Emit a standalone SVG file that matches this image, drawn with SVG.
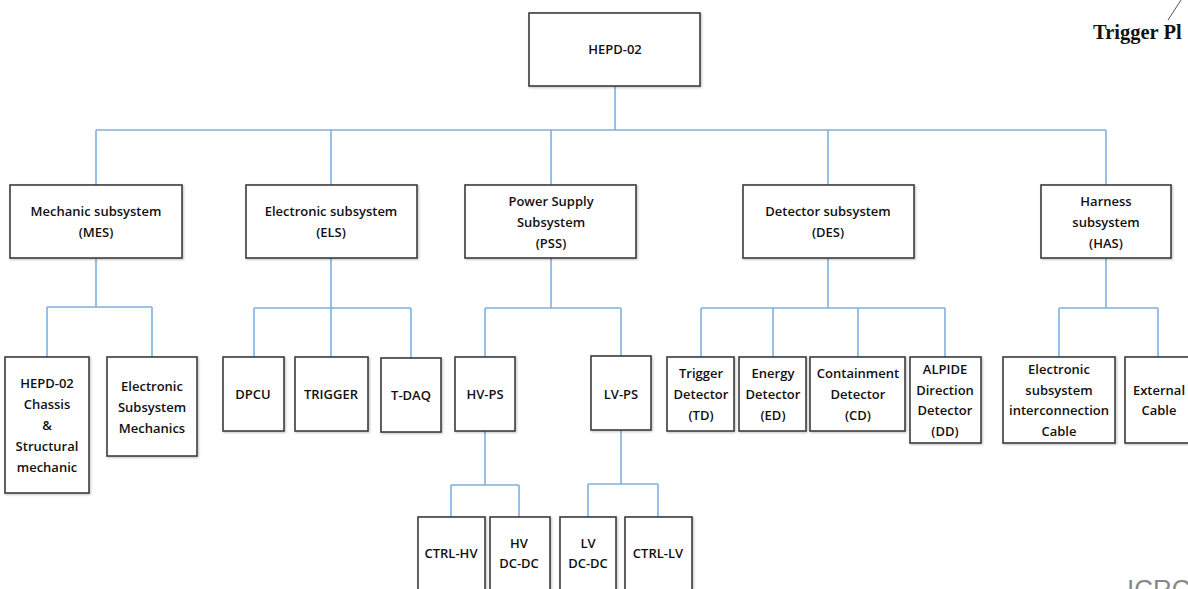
<svg xmlns="http://www.w3.org/2000/svg" width="1188" height="589" viewBox="0 0 1188 589">
<defs>
<filter id="sh" x="-10%" y="-10%" width="130%" height="130%">
<feDropShadow dx="1" dy="1" stdDeviation="1.2" flood-color="#000" flood-opacity="0.25"/>
</filter>
</defs>
<style>
.box{fill:#fff;stroke:#3c3c3c;stroke-width:1.6;filter:url(#sh)}
.t{font-family:"Open Sans","Noto Sans",sans-serif;font-size:13px;font-weight:600;fill:#111;text-anchor:middle;dominant-baseline:central}
.c{fill:none;stroke:#7fb0e0;stroke-width:1.6}
</style>
<rect width="1188" height="589" fill="#fff"/>
<g id="connectors">
<path class="c" d="M615 86V130M96 130H1106M96 130V185M331 130V185M551 130V185M828 130V185M1106 130V185"/>
<path class="c" d="M96 258V307M47 307H152M47 307V357M152 307V357"/>
<path class="c" d="M331 258V357M254 308H411M254 308V357M411 308V358"/>
<path class="c" d="M551 258V308M485 308H621M485 308V357M621 308V356"/>
<path class="c" d="M828 258V308M701 308H945M701 308V357M773 308V357M858 308V357M945 308V357"/>
<path class="c" d="M1106 258V308M1059 308H1158M1059 308V357M1158 308V357"/>
<path class="c" d="M485 431V485M451 485H519M451 485V517M519 485V517"/>
<path class="c" d="M621 430V484M588 484H658M588 484V517M658 484V517"/>
</g>
<g id="hepd02"><rect class="box" x="529" y="13" width="171" height="73"/><text class="t" x="615" y="49">HEPD-02</text></g>
<g id="mes"><rect class="box" x="10" y="185" width="172" height="73"/><text class="t" x="96" y="211">Mechanic subsystem</text><text class="t" x="96" y="232">(MES)</text></g>
<g id="els"><rect class="box" x="246" y="185" width="171" height="73"/><text class="t" x="331" y="211">Electronic subsystem</text><text class="t" x="331" y="232">(ELS)</text></g>
<g id="pss"><rect class="box" x="465" y="185" width="171" height="73"/><text class="t" x="551" y="201">Power Supply</text><text class="t" x="551" y="222">Subsystem</text><text class="t" x="551" y="243">(PSS)</text></g>
<g id="des"><rect class="box" x="743" y="185" width="171" height="73"/><text class="t" x="828" y="211">Detector subsystem</text><text class="t" x="828" y="232">(DES)</text></g>
<g id="has"><rect class="box" x="1041" y="185" width="130" height="73"/><text class="t" x="1106" y="201">Harness</text><text class="t" x="1106" y="222">subsystem</text><text class="t" x="1106" y="243">(HAS)</text></g>
<g id="chassis"><rect class="box" x="5" y="357" width="84" height="136"/><text class="t" x="47" y="383">HEPD-02</text><text class="t" x="47" y="404">Chassis</text><text class="t" x="47" y="425">&amp;</text><text class="t" x="47" y="446">Structural</text><text class="t" x="47" y="467">mechanic</text></g>
<g id="esm"><rect class="box" x="107" y="357" width="90" height="99"/><text class="t" x="152" y="386">Electronic</text><text class="t" x="152" y="407">Subsystem</text><text class="t" x="152" y="428">Mechanics</text></g>
<g id="dpcu"><rect class="box" x="223" y="357" width="61" height="74"/><text class="t" x="253" y="394">DPCU</text></g>
<g id="trigger"><rect class="box" x="295" y="357" width="73" height="74"/><text class="t" x="331" y="394">TRIGGER</text></g>
<g id="tdaq"><rect class="box" x="381" y="358" width="60" height="74"/><text class="t" x="411" y="395">T-DAQ</text></g>
<g id="hvps"><rect class="box" x="455" y="357" width="60" height="74"/><text class="t" x="485" y="394">HV-PS</text></g>
<g id="lvps"><rect class="box" x="591" y="356" width="60" height="74"/><text class="t" x="621" y="394">LV-PS</text></g>
<g id="td"><rect class="box" x="667" y="357" width="67" height="74"/><text class="t" x="701" y="373">Trigger</text><text class="t" x="701" y="394">Detector</text><text class="t" x="701" y="415">(TD)</text></g>
<g id="ed"><rect class="box" x="739" y="357" width="67" height="74"/><text class="t" x="773" y="373">Energy</text><text class="t" x="773" y="394">Detector</text><text class="t" x="773" y="415">(ED)</text></g>
<g id="cd"><rect class="box" x="810" y="357" width="95" height="74"/><text class="t" x="858" y="373">Containment</text><text class="t" x="858" y="394">Detector</text><text class="t" x="858" y="415">(CD)</text></g>
<g id="dd"><rect class="box" x="910" y="357" width="71" height="86"/><text class="t" x="945" y="369">ALPIDE</text><text class="t" x="945" y="390">Direction</text><text class="t" x="945" y="410">Detector</text><text class="t" x="945" y="431">(DD)</text></g>
<g id="esic"><rect class="box" x="1003" y="357" width="112" height="86"/><text class="t" x="1059" y="369">Electronic</text><text class="t" x="1059" y="390">subsystem</text><text class="t" x="1059" y="410">interconnection</text><text class="t" x="1059" y="431">Cable</text></g>
<g id="extcable"><rect class="box" x="1125" y="357" width="70" height="86"/><text class="t" x="1159" y="390">External</text><text class="t" x="1159" y="410">Cable</text></g>
<g id="ctrlhv"><rect class="box" x="418" y="517" width="67" height="80"/><text class="t" x="451" y="553">CTRL-HV</text></g>
<g id="hvdcdc"><rect class="box" x="490" y="517" width="60" height="80"/><text class="t" x="519" y="543">HV</text><text class="t" x="519" y="563">DC-DC</text></g>
<g id="lvdcdc"><rect class="box" x="560" y="517" width="56" height="80"/><text class="t" x="588" y="543">LV</text><text class="t" x="588" y="563">DC-DC</text></g>
<g id="ctrllv"><rect class="box" x="625" y="517" width="67" height="80"/><text class="t" x="658" y="553">CTRL-LV</text></g>
<g id="overlay">
<line x1="1168" y1="20" x2="1181" y2="0" stroke="#555" stroke-width="1"/>
<text x="1093" y="39" font-family="Liberation Serif,serif" font-weight="bold" font-size="20.5" fill="#111">Trigger Pl</text>
<text x="1127" y="598" font-family="Liberation Sans,sans-serif" font-size="26" fill="#888">ICRC</text>
</g>
</svg>
